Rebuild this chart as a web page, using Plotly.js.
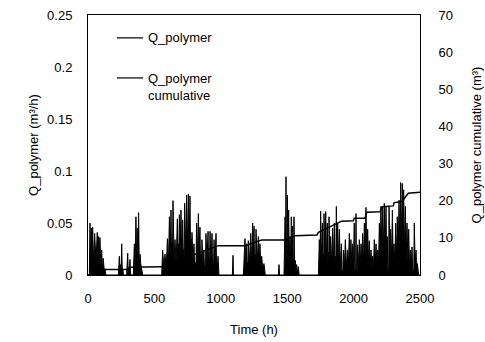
<!DOCTYPE html>
<html>
<head>
<meta charset="utf-8">
<script src="https://cdn.plot.ly/plotly-3.0.1.min.js"></script>
<style>html,body{margin:0;padding:0;background:#fff;}#chart{width:485px;height:342px;}</style>
</head>
<body>
<div id="chart"></div>
<script>
// Q_polymer flow rate (m3/h) readings vs time (h): peaks and the troughs between them
var timeQ = [0,10,15,20,25,30,35,42,50,60,70,75,80,85,90,97,103,109,115,122,128,135,
  229,236,240,244,249,254,258,261,268,
  291,299,303,306,311,316,320,323,
  341,349,355,361,366,371,376,381,386,392,397,404,412,
  555,562,571,580,589,598,606,613,619,625,629,633,636,640,648,655,664,673,677,680,684,688,694,700,706,713,717,720,724,728,736,743,750,756,762,768,772,776,780,783,790,798,803,808,813,818,825,831,837,843,847,851,855,858,866,873,877,881,885,888,896,904,908,911,915,919,926,934,938,941,945,949,956,964,968,971,975,979,986,
  1087,1092,1096,
  1170,1182,1188,1195,1199,1202,1205,1207,1216,1225,1232,1240,1245,1250,1254,1258,1262,1265,1274,1283,1289,1295,1301,1308,1316,1325,1335,
  1433,1438,1443,
  1476,1484,1488,1491,1494,1496,1499,1501,1506,1511,1516,1521,1526,1531,1536,1541,1544,1546,1549,1551,1556,1561,1566,1571,1578,1584,1590,
  1735,1742,1747,1752,1758,1765,1769,1772,1775,1777,1784,1790,1796,1802,1806,1810,1813,1815,1821,1827,1835,1842,1848,1855,1859,1862,1866,1870,1875,1880,1887,1893,1900,1908,1912,1915,1919,1923,1930,1938,1946,1953,1960,1968,1974,1980,1987,1993,1999,
  2005,2009,2013,2016,2018,2021,2023,2027,2030,2037,2043,2050,2056,2062,2068,2075,2081,2087,2093,2100,2106,2112,2118,2125,2131,2138,2144,2150,2156,2163,2169,2175,2181,2188,2194,2200,2206,2213,2219,2225,2231,2238,2244,2249,2254,2258,2262,2264,2267,2273,2279,2286,2292,2298,
  2304,2311,2317,2323,2329,2336,2342,2349,2355,2361,2367,2372,2377,2384,2390,2396,2402,2409,2415,2421,2427,2434,2440,2445,2450,2453,2457,2464,2470,2475,2480,2490,2500];
var qPolymer = [0,0,0.050,0.012,0.045,0.015,0.046,0.010,0.040,0.014,0.041,0.012,0.037,0.010,0.036,0.008,0.024,0.006,0.016,0.004,0.006,0,
  0,0.018,0.003,0.010,0.004,0.030,0.004,0.006,0,
  0,0.021,0.002,0.006,0.002,0.015,0.002,0,
  0,0.030,0.010,0.056,0.012,0.045,0.010,0.060,0.008,0.020,0.011,0.007,0,
  0,0.024,0.008,0.020,0.006,0.035,0.012,0.056,0.015,0.0625,0.020,0.030,0.015,0.0715,0.015,0.034,0.012,0.054,0.020,0.030,0.015,0.058,0.020,0.0625,0.015,0.053,0.020,0.025,0.015,0.069,0.020,0.077,0.025,0.078,0.020,0.076,0.020,0.035,0.015,0.041,0.012,0.030,0.008,0.012,0.008,0.050,0.015,0.059,0.015,0.046,0.010,0.020,0.010,0.034,0.010,0.024,0.005,0.008,0.005,0.040,0.012,0.042,0.010,0.015,0.010,0.042,0.012,0.040,0.005,0.010,0.005,0.034,0.010,0.040,0.008,0.012,0.005,0.018,0,
  0,0.019,0,
  0,0.035,0.010,0.030,0.008,0.012,0.008,0.033,0.012,0.040,0.012,0.050,0.015,0.047,0.010,0.020,0.010,0.044,0.012,0.037,0.010,0.030,0.008,0.018,0.005,0.011,0,
  0,0.010,0,
  0,0.056,0.020,0.0945,0.020,0.040,0.015,0.077,0.020,0.0625,0.012,0.037,0.012,0.056,0.015,0.047,0.005,0.015,0.005,0.056,0.005,0.014,0.002,0.010,0.002,0.008,0,
  0,0.034,0.012,0.0615,0.015,0.050,0.012,0.020,0.010,0.059,0.015,0.061,0.015,0.050,0.010,0.022,0.010,0.056,0.012,0.037,0.010,0.045,0.012,0.050,0.008,0.018,0.008,0.066,0.015,0.050,0.012,0.044,0.008,0.030,0.002,0.004,0.002,0.024,0.006,0.034,0.006,0.024,0.008,0.040,0.010,0.034,0.008,0.030,0.010,
  0.050,0.003,0.005,0.003,0.059,0.003,0.005,0.003,0.029,0.008,0.034,0.010,0.030,0.010,0.040,0.012,0.050,0.015,0.065,0.015,0.044,0.012,0.033,0.008,0.024,0.006,0.018,0.008,0.034,0.010,0.030,0.008,0.024,0.012,0.050,0.018,0.066,0.020,0.066,0.020,0.069,0.020,0.066,0.012,0.037,0.003,0.005,0.003,0.066,0.015,0.044,0.015,0.0625,0.012,
  0.030,0.012,0.050,0.015,0.056,0.020,0.072,0.025,0.089,0.030,0.088,0.030,0.082,0.020,0.066,0.015,0.050,0.012,0.044,0.008,0.024,0.008,0.027,0.003,0.005,0.003,0.050,0.008,0.024,0.005,0.011,0,0];

// Cumulative polymer volume (m3)
var timeCum = [0,128,304,310,555,981,1182,1308,1484,1559,1724,1735,1910,1998,2005,2086,2099,2199,2215,2299,2305,2362,2412,2500];
var qCumulative = [0,1.5,1.5,2.1,2.2,7.9,7.9,9.4,9.4,10.6,10.8,11.5,14.5,14.6,15.3,15.3,16.9,17.0,18.4,18.6,19.5,19.7,22.0,22.3];

var legendNames = ['Q_polymer', 'Q_polymer<br>cumulative'];

var font = {family: 'Liberation Sans, Arial, sans-serif', size: 13, color: '#000'};

var traces = [
  {x: timeQ, y: qPolymer, type: 'scatter', mode: 'lines', fill: 'tozeroy',
   fillcolor: '#000', line: {color: '#000', width: 1}, name: legendNames[0], showlegend: false},
  {x: timeCum, y: qCumulative, type: 'scatter', mode: 'lines', yaxis: 'y2',
   line: {color: '#000', width: 1.5}, name: legendNames[1], showlegend: false}
];

var layout = {
  width: 485, height: 342,
  margin: {l: 88, r: 65, t: 15, b: 67},
  paper_bgcolor: '#fff', plot_bgcolor: '#fff',
  font: font,
  showlegend: false,
  xaxis: {range: [0, 2500], dtick: 500, showgrid: false, zeroline: false,
    showline: true, mirror: true, linecolor: '#000', linewidth: 1, ticks: '',
    ticklabelstandoff: 11,
    title: {text: 'Time (h)', font: font, standoff: 20}},
  yaxis: {range: [0, 0.25], dtick: 0.05, showgrid: false, zeroline: false,
    showline: true, mirror: true, linecolor: '#000', linewidth: 1, ticks: '',
    ticklabelstandoff: 12,
    title: {text: 'Q_polymer (m³/h)', font: font, standoff: 5}},
  yaxis2: {range: [0, 70], dtick: 10, overlaying: 'y', side: 'right', showgrid: false,
    zeroline: false, showline: true, linecolor: '#000', linewidth: 1, ticks: '',
    ticklabelstandoff: 15,
    title: {text: 'Q_polymer cumulative (m³)', font: font, standoff: 19}},
  shapes: [
    {type: 'line', xref: 'paper', yref: 'paper', x0: 0.087, x1: 0.166, y0: 0.912, y1: 0.912, line: {color: '#000', width: 1.2}},
    {type: 'line', xref: 'paper', yref: 'paper', x0: 0.087, x1: 0.166, y0: 0.758, y1: 0.758, line: {color: '#000', width: 1.2}}
  ],
  annotations: [
    {xref: 'paper', yref: 'paper', x: 0.175, y: 0.912, xanchor: 'left', yanchor: 'middle', text: legendNames[0], showarrow: false, font: font, align: 'left'},
    {xref: 'paper', yref: 'paper', x: 0.175, y: 0.792, xanchor: 'left', yanchor: 'top', text: legendNames[1], showarrow: false, font: font, align: 'left'}
  ]
};

Plotly.newPlot('chart', traces, layout, {displayModeBar: false, staticPlot: true});
</script>
</body>
</html>
